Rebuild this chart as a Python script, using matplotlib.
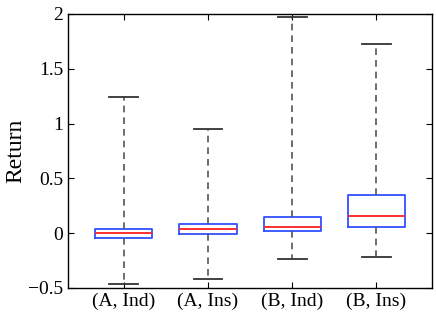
import matplotlib.pyplot as plt

labels = ['(A, Ind)', '(A, Ins)', '(B, Ind)', '(B, Ins)']
whislo = [-0.468, -0.42, -0.238, -0.22]
q1 = [-0.042, -0.012, 0.016, 0.055]
med = [0.003, 0.034, 0.055, 0.159]
q3 = [0.037, 0.086, 0.146, 0.351]
whishi = [1.243, 0.951, 1.976, 1.729]

plt.rcParams['font.family'] = ['Liberation Serif', 'DejaVu Serif']

stats = []
for i in range(len(labels)):
    stats.append(dict(label=labels[i], whislo=whislo[i], q1=q1[i], med=med[i],
                      q3=q3[i], whishi=whishi[i], fliers=[]))

fig = plt.figure(figsize=(4.36, 3.25), dpi=100)
ax = fig.add_axes([0.156, 0.114, 0.835, 0.843])

ax.bxp(stats, positions=[1, 2, 3, 4], widths=0.68, showfliers=False,
       boxprops=dict(color='#3050ff', linewidth=1.3),
       medianprops=dict(color='#ff2020', linewidth=1.3),
       whiskerprops=dict(color='#555555', linewidth=1.2, linestyle=(0, (4, 3))),
       capprops=dict(color='#333333', linewidth=1.3),
       capwidths=0.34)

ax.set_xlim(0.34, 4.66)
ax.set_ylim(-0.5, 2)
ax.set_yticks([-0.5, 0, 0.5, 1, 1.5, 2])
ax.set_yticklabels(['\u22120.5', '0', '0.5', '1', '1.5', '2'])
ax.set_ylabel('Return', fontsize=17, labelpad=1)
ax.tick_params(direction='in', length=4, labelsize=14, top=True, right=True, width=0.8)
for s in ax.spines.values():
    s.set_linewidth(1.0)

fig.savefig('out.png', dpi=100)
